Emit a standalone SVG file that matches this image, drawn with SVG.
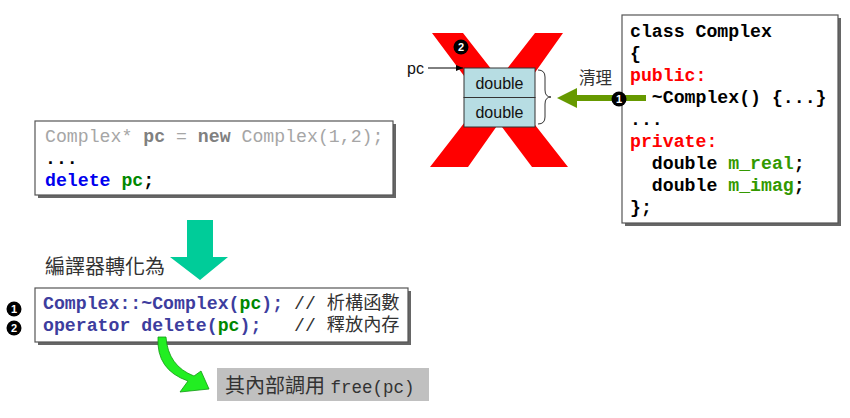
<svg xmlns="http://www.w3.org/2000/svg" width="850" height="418" viewBox="0 0 850 418">
<defs>
<style>
.code{font-family:"Liberation Mono","Noto Sans CJK TC",monospace;font-size:18.2px;font-weight:bold;white-space:pre}
.cn{font-family:"Liberation Sans","Noto Sans CJK TC",sans-serif;fill:#333}
.box{fill:#fff;stroke:#555;stroke-width:1.2}
.shadow{fill:#666}
.num{font-family:"Liberation Sans",sans-serif;font-size:11px;font-weight:bold;fill:#fff;text-anchor:middle}
.dbl{font-family:"Liberation Sans",sans-serif;font-size:16px;fill:#111;text-anchor:middle}
</style>
<marker id="ah" markerWidth="8" markerHeight="8" refX="7" refY="4" orient="auto" markerUnits="userSpaceOnUse">
<path d="M0,1 L7,4 L0,7 Z" fill="#000"/>
</marker>
</defs>
<rect width="850" height="418" fill="#fff"/>

<!-- Red X -->
<g id="redx">
<polygon points="432,33 463,33 499,79 535,33 563,33 515.5,100 568,167 532,167 499,123 468,167 430,167 482,100" fill="#ff0000"/>
</g>

<!-- code box 1 -->
<g id="code1">
<rect x="38" y="124" width="358" height="74" class="shadow"/>
<rect x="35" y="121" width="358" height="74" class="box"/>
<text class="code" x="45" y="142"><tspan fill="#a6a6a6" font-weight="normal">Complex* </tspan><tspan fill="#808080">pc</tspan><tspan fill="#a6a6a6" font-weight="normal"> = </tspan><tspan fill="#808080">new</tspan><tspan fill="#a6a6a6" font-weight="normal"> Complex(1,2);</tspan></text>
<text class="code" x="45" y="164" fill="#000">...</text>
<text class="code" x="45" y="186"><tspan fill="#0000ee">delete </tspan><tspan fill="#008800">pc</tspan><tspan fill="#000">;</tspan></text>
</g>

<!-- compiler label + arrow -->
<g id="convert">
<text class="cn" x="45" y="274" font-size="20">編譯器轉化為</text>
<polygon points="187,220 213,220 213,257 228,257 200,280 170,257 187,257" fill="#00cc99"/>
</g>

<!-- code box 2 -->
<g id="code2">
<rect x="38" y="291" width="373" height="54" class="shadow"/>
<rect x="35" y="288" width="373" height="54" class="box"/>
<text class="code" x="43" y="309"><tspan fill="#3d3d9e">Complex::~Complex(</tspan><tspan fill="#008800">pc</tspan><tspan fill="#3d3d9e">); </tspan><tspan fill="#333" font-weight="normal">// 析構函數</tspan></text>
<text class="code" x="43" y="331"><tspan fill="#3d3d9e">operator delete(</tspan><tspan fill="#008800">pc</tspan><tspan fill="#3d3d9e">);   </tspan><tspan fill="#333" font-weight="normal">// 釋放內存</tspan></text>
</g>
<g id="n1left">
<circle cx="14" cy="309" r="7.5" fill="#000"/>
<text class="num" x="14" y="313">1</text>
</g>
<g id="n2left">
<circle cx="14" cy="328" r="7.5" fill="#000"/>
<text class="num" x="14" y="332">2</text>
</g>

<!-- free box -->
<g id="free">
<rect x="217" y="368" width="212" height="33" fill="#c0c0c0"/>
<text x="225" y="393" fill="#333"><tspan class="cn" font-size="20">其內部調用 </tspan><tspan font-family="Liberation Mono,monospace" font-size="17.5">free(pc)</tspan></text>
</g>

<!-- memory -->
<g id="memory">
<rect x="464" y="68" width="71" height="29.5" fill="#b7dde3" stroke="#333" stroke-width="1"/>
<rect x="464" y="97.5" width="71" height="29.5" fill="#b7dde3" stroke="#333" stroke-width="1"/>
<text class="dbl" x="499.5" y="89">double</text>
<text class="dbl" x="499.5" y="118">double</text>
</g>
<g id="pc">
<text x="407" y="74" font-family="Liberation Sans,sans-serif" font-size="16" fill="#111">pc</text>
</g>
<g id="brace">
<path d="M538,70 Q545,70 545,77 L545,90 Q545,97 551,97 Q545,97 545,104 L545,117 Q545,124 538,124" fill="none" stroke="#333" stroke-width="1"/>
</g>
<g id="cleanlabel">
<text class="cn" x="579" y="84" font-size="16.5">清理</text>
</g>

<!-- class box -->
<g id="classbox">
<rect x="625" y="18" width="216" height="208" class="shadow"/>
<rect x="622" y="15" width="216" height="208" class="box"/>
<text class="code" x="630" y="37" fill="#000">class Complex</text>
<text class="code" x="630" y="59" fill="#000">{</text>
<text class="code" x="630" y="81" fill="#ff0000">public:</text>
<text class="code" x="630" y="103" fill="#000">  ~Complex() {...}</text>
<text class="code" x="630" y="125" fill="#000">...</text>
<text class="code" x="630" y="147" fill="#ff0000">private:</text>
<text class="code" x="630" y="169" fill="#000">  double <tspan fill="#339900">m_real</tspan>;</text>
<text class="code" x="630" y="191" fill="#000">  double <tspan fill="#339900">m_imag</tspan>;</text>
<text class="code" x="630" y="213" fill="#000">};</text>
</g>

<!-- connectors -->
<g id="connectors">
<line x1="428" y1="68" x2="463" y2="68" stroke="#000" stroke-width="1" marker-end="url(#ah)"/>
<path d="M646,98 L575,98" stroke="#669900" stroke-width="6" fill="none"/>
<polygon points="557,98 577,88 577,108" fill="#669900"/>
<path d="M158,337 Q156,370 188,381 L180,392 L209,389 L201,371 L194,376 Q168,366 166,337 Z" fill="#22ee22" stroke="#119911" stroke-width="0.8"/>
</g>

<g id="n2top">
<circle cx="461" cy="47" r="7.5" fill="#000"/>
<text class="num" x="461" y="51">2</text>
</g>
<g id="n1top">
<circle cx="619" cy="99" r="7.5" fill="#000"/>
<text class="num" x="619" y="103">1</text>
</g>
</svg>
